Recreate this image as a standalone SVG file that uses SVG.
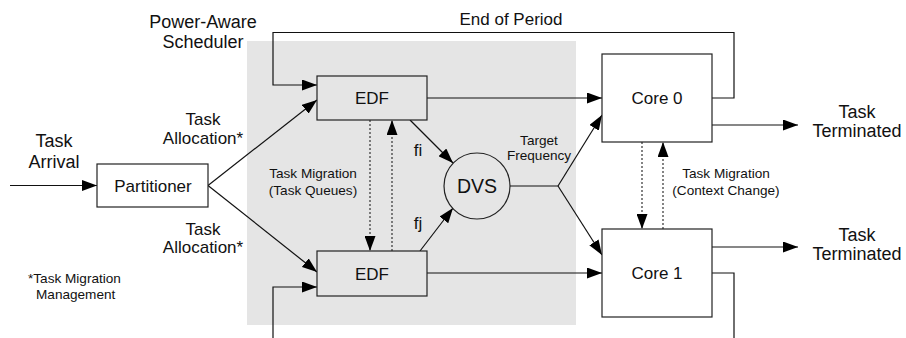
<svg xmlns="http://www.w3.org/2000/svg" width="906" height="338" viewBox="0 0 906 338">
<style>
text{font-family:"Liberation Sans",Arial,sans-serif;fill:#111;text-anchor:middle}
.l{stroke:#111;stroke-width:1.2;fill:none}
.d{stroke:#333;stroke-width:1.2;fill:none;stroke-dasharray:2,2}
.box{stroke:#222;stroke-width:1.2}
.t17{font-size:17px}
.t18{font-size:18px}
.t13{font-size:13.6px}
</style>
<defs>
<marker id="a" markerUnits="userSpaceOnUse" markerWidth="15" markerHeight="11" refX="15" refY="5.5" orient="auto">
<path d="M0,0 L15,5.5 L0,11 z" fill="#000"/>
</marker>
</defs>
<rect id="scheduler" x="247" y="41" width="329" height="284" fill="#e5e5e5"/>
<g id="connectors">
<line class="l" x1="10" y1="185.5" x2="97" y2="185.5" marker-end="url(#a)"/>
<line class="l" x1="208" y1="185.5" x2="317" y2="100" marker-end="url(#a)"/>
<line class="l" x1="208" y1="185.5" x2="317" y2="272" marker-end="url(#a)"/>
<polyline class="l" points="712,98 734,98 734,32.5 273,32.5 273,85 317,85" marker-end="url(#a)"/>
<polyline class="l" points="273,338 273,287 317,287" marker-end="url(#a)"/>
<polyline class="l" points="712,273 734,273 734,338"/>
<line class="l" x1="427" y1="98" x2="602" y2="98" marker-end="url(#a)"/>
<line class="l" x1="427" y1="273" x2="602" y2="273" marker-end="url(#a)"/>
<line class="l" x1="712" y1="125" x2="798" y2="125" marker-end="url(#a)"/>
<line class="l" x1="712" y1="247" x2="798" y2="247" marker-end="url(#a)"/>
<line class="l" x1="410" y1="120" x2="453" y2="163" marker-end="url(#a)"/>
<line class="l" x1="420" y1="251" x2="453" y2="208" marker-end="url(#a)"/>
<line class="l" x1="510" y1="186" x2="558" y2="186" stroke="#555"/>
<line class="l" x1="558" y1="186" x2="602" y2="115" marker-end="url(#a)"/>
<line class="l" x1="558" y1="186" x2="602" y2="255" marker-end="url(#a)"/>
<line class="d" x1="370" y1="120" x2="370" y2="251" marker-end="url(#a)"/>
<line class="d" x1="392" y1="251" x2="392" y2="120" marker-end="url(#a)"/>
<line class="d" x1="642" y1="142" x2="642" y2="229" marker-end="url(#a)"/>
<line class="d" x1="663" y1="229" x2="663" y2="142" marker-end="url(#a)"/>
</g>
<g id="partitioner">
<rect class="box" x="97" y="164" width="111" height="43" fill="#fff"/>
<text class="t17" x="153" y="191.5">Partitioner</text>
</g>
<g id="edf-top">
<rect class="box" x="317" y="76" width="110" height="44" fill="#e5e5e5"/>
<text class="t17" x="372" y="104">EDF</text>
</g>
<g id="edf-bottom">
<rect class="box" x="317" y="251" width="110" height="45" fill="#e5e5e5"/>
<text class="t17" x="372" y="279.5">EDF</text>
</g>
<g id="dvs">
<circle class="box" cx="477" cy="186" r="33" fill="#e5e5e5"/>
<text x="477" y="193" style="font-size:19.5px">DVS</text>
</g>
<g id="core0">
<rect class="box" x="602" y="54" width="110" height="88" fill="#fff"/>
<text class="t17" x="657" y="104">Core 0</text>
</g>
<g id="core1">
<rect class="box" x="602" y="229" width="110" height="88" fill="#fff"/>
<text class="t17" x="657" y="279">Core 1</text>
</g>
<g id="labels">
<text class="t18" x="54" y="147">Task</text>
<text class="t18" x="54" y="168">Arrival</text>
<text class="t18" x="203" y="28">Power-Aware</text>
<text class="t18" x="203" y="48">Scheduler</text>
<text class="t17" x="511" y="25">End of Period</text>
<text class="t17" x="203" y="125">Task</text>
<text class="t17" x="203" y="144">Allocation*</text>
<text class="t17" x="203" y="235">Task</text>
<text class="t17" x="203" y="253">Allocation*</text>
<text class="t13" x="313" y="178">Task Migration</text>
<text class="t13" x="313" y="195">(Task Queues)</text>
<text class="t13" x="726" y="178">Task Migration</text>
<text class="t13" x="726" y="195">(Context Change)</text>
<text class="t17" x="418" y="156">fi</text>
<text class="t17" x="418" y="229">fj</text>
<text class="t13" x="539" y="145">Target</text>
<text class="t13" x="539" y="160">Frequency</text>
<text class="t18" x="857" y="118">Task</text>
<text class="t18" x="857" y="137">Terminated</text>
<text class="t18" x="857" y="241">Task</text>
<text class="t18" x="857" y="260">Terminated</text>
<text class="t13" x="28" y="283" style="text-anchor:start">*Task Migration</text>
<text class="t13" x="36" y="299" style="text-anchor:start">Management</text>
</g>
</svg>
